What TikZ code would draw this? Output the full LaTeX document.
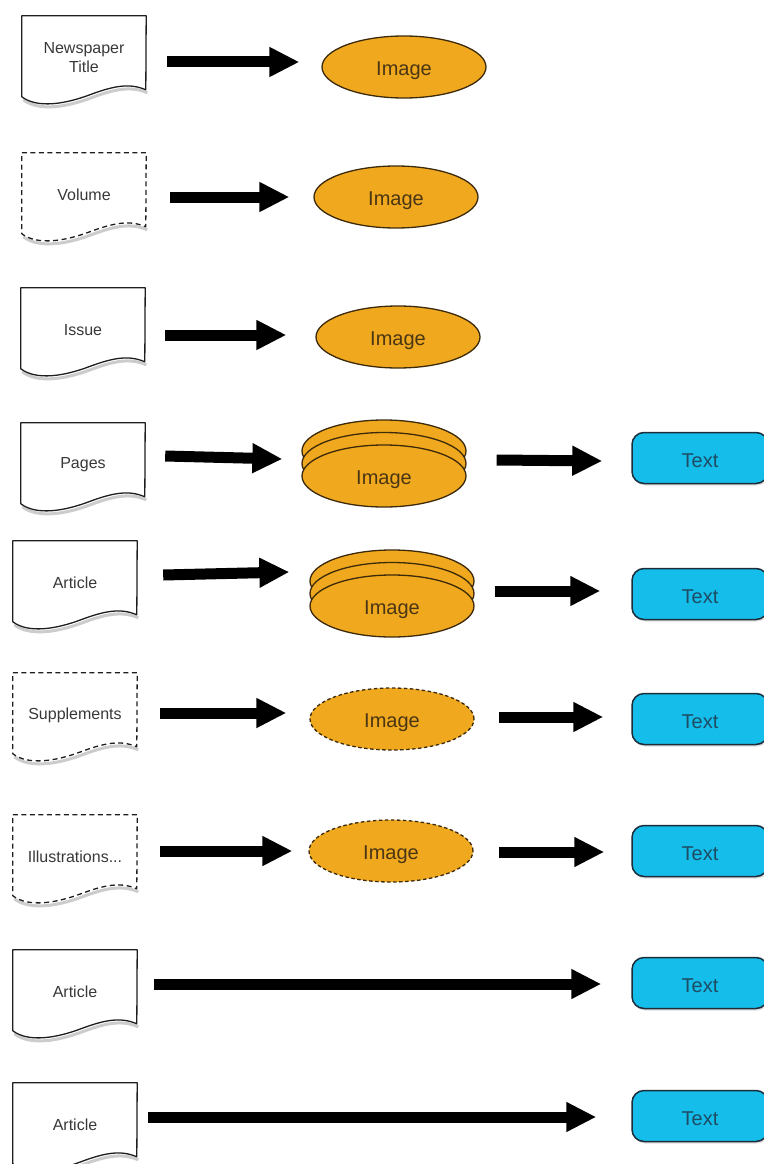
\documentclass[tikz,border=0pt]{standalone}
\usepackage{fontspec}
\setmainfont{Liberation Sans}
\usetikzlibrary{arrows.meta,calc,shapes.geometric,shadows}

\definecolor{imgfill}{HTML}{F0A91E}
\definecolor{imgline}{HTML}{3D2A0A}
\definecolor{imgtext}{HTML}{4A3514}
\definecolor{txtfill}{HTML}{14BDEA}
\definecolor{txtline}{HTML}{1B2D3A}
\definecolor{txttext}{HTML}{1E4C63}
\definecolor{docline}{HTML}{1E1E1E}
\definecolor{doctext}{HTML}{383838}

\tikzset{
  docnode/.style={rectangle, minimum width=124pt, minimum height=84pt, inner sep=0pt,
    align=center, font=\fontsize{16}{19}\selectfont, text=doctext},
  docsolid/.style={draw=docline, line width=1.3pt, line join=round},
  docdashed/.style={docsolid, dash pattern=on 5pt off 3.5pt},
  docshade/.style={draw=black, opacity=0.2, line width=3pt},
  imgnode/.style={ellipse, minimum width=164pt, minimum height=62pt, inner sep=0pt,
    fill=imgfill, draw=imgline, line width=1.3pt, font=\fontsize{20}{22}\selectfont,
    text=imgtext, text height=17pt, text depth=0pt},
  imgdashed/.style={imgnode, dash pattern=on 3.5pt off 2.5pt},
  txtnode/.style={rectangle, rounded corners=12pt, minimum width=136pt, minimum height=51pt,
    inner sep=0pt, fill=txtfill, draw=txtline, line width=1.5pt,
    font=\fontsize{20}{22}\selectfont, text=txttext, text height=18.5pt, text depth=0pt,
    drop shadow={opacity=0.25, shadow xshift=1pt, shadow yshift=-2pt}},
  flow/.style={draw=black, line width=11pt, -{Triangle[length=30pt,width=28pt]}},
}

% wavy bottom edge of a document node, offset by (#2,#3)
\newcommand\docwave[3]{%
  ($(#1.north west)+(124+#2,74+#3)$)
  .. controls ($(#1.north west)+(108+#2,67+#3)$) and ($(#1.north west)+(92+#2,70+#3)$) ..
  ($(#1.north west)+(68+#2,79+#3)$)
  .. controls ($(#1.north west)+(44+#2,88+#3)$) and ($(#1.north west)+(16+#2,93+#3)$) ..
  ($(#1.north west)+(0+#2,81+#3)$)}

% outline of a document node: straight top and sides, wavy bottom
\newcommand\docshape[2]{%
  \draw[docshade] \docwave{#2}{1.5}{3};
  \draw[#1] (#2.north west) -- (#2.north east) -- \docwave{#2}{0}{0} -- cycle;
}

\begin{document}
\begin{tikzpicture}[x=1pt, y=-1pt]
\useasboundingbox (0,0) rectangle (763,1164);

% documents
\node[docnode] (d1) at (84,58)   {Newspaper\\Title};
\node[docnode] (d2) at (84,195)  {Volume};
\node[docnode] (d3) at (83,330)  {Issue};
\node[docnode] (d4) at (83,465)  {Pages};
\node[docnode] (d5) at (75,583)  {Article};
\node[docnode] (d6) at (75,715)  {Supplements};
\node[docnode] (d7) at (75,857)  {Illustrations...};
\node[docnode] (d8) at (75,992)  {Article};
\node[docnode] (d9) at (75,1125) {Article};
\docshape{docsolid}{d1}
\docshape{docdashed}{d2}
\docshape{docsolid}{d3}
\docshape{docsolid}{d4}
\docshape{docsolid}{d5}
\docshape{docdashed}{d6}
\docshape{docdashed}{d7}
\docshape{docsolid}{d8}
\docshape{docsolid}{d9}

% images
\node[imgnode] (i1) at (404,67)  {Image};
\node[imgnode] (i2) at (396,197) {Image};
\node[imgnode] (i3) at (398,337) {Image};
\node[imgnode] (i4c) at (384,451)   {};
\node[imgnode] (i4b) at (384,463.5) {};
\node[imgnode] (i4)  at (384,476)   {Image};
\node[imgnode] (i5c) at (392,581)   {};
\node[imgnode] (i5b) at (392,593.5) {};
\node[imgnode] (i5)  at (392,606)   {Image};
\node[imgdashed] (i6) at (392,719) {Image};
\node[imgdashed] (i7) at (391,851) {Image};

% text outputs
\node[txtnode] (t4) at (700,458)  {Text};
\node[txtnode] (t5) at (700,594)  {Text};
\node[txtnode] (t6) at (700,719)  {Text};
\node[txtnode] (t7) at (700,851)  {Text};
\node[txtnode] (t8) at (700,983)  {Text};
\node[txtnode] (t9) at (700,1116) {Text};

% arrows
\draw[flow] ($(d1.east)+(21,4)$)  -- ($(i1.west)+(-22,-5)$);
\draw[flow] ($(d2.east)+(24,2)$)  -- ($(i2.west)+(-24,0)$);
\draw[flow] ($(d3.east)+(20,5)$)  -- ($(i3.west)+(-29,-2)$);
\draw[flow] ($(d4.east)+(20,-9)$) -- ($(i4.west)+(-19,-17)$);
\draw[flow] ($(i4.east)+(30,-16)$) -- ($(t4.west)+(-29,3)$);
\draw[flow] ($(d5.east)+(26,-8)$) -- ($(i5.west)+(-20,-34)$);
\draw[flow] ($(i5.east)+(20,-15)$) -- ($(t5.west)+(-31,-3)$);
\draw[flow] ($(d6.east)+(23,-2)$) -- ($(i6.west)+(-23,-6)$);
\draw[flow] ($(i6.east)+(24,-2)$) -- ($(t6.west)+(-28,-2)$);
\draw[flow] ($(d7.east)+(23,-6)$) -- ($(i7.west)+(-16,0)$);
\draw[flow] ($(i7.east)+(25,1)$)  -- ($(t7.west)+(-27,1)$);
\draw[flow] ($(d8.east)+(17,-8)$) -- ($(t8.west)+(-30,1)$);
\draw[flow] ($(d9.east)+(11,-8)$) -- ($(t9.west)+(-35,1)$);
\end{tikzpicture}
\end{document}
